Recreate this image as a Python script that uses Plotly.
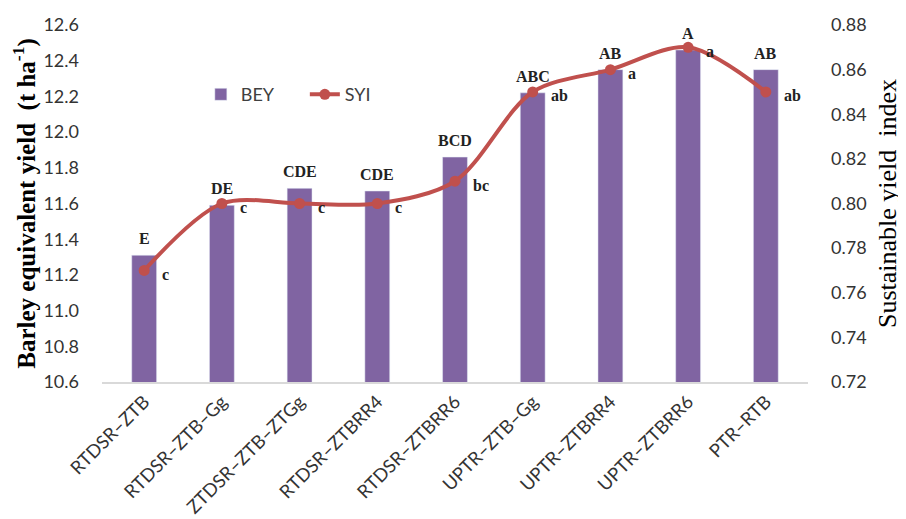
import plotly.graph_objects as go

categories = ["RTDSR–ZTB", "RTDSR–ZTB–Gg", "ZTDSR–ZTB–ZTGg", "RTDSR–ZTBRR4",
              "RTDSR–ZTBRR6", "UPTR–ZTB–Gg", "UPTR–ZTBRR4", "UPTR–ZTBRR6", "PTR–RTB"]
bey = [11.31, 11.59, 11.685, 11.67, 11.86, 12.22, 12.35, 12.46, 12.35]
syi = [0.77, 0.80, 0.80, 0.80, 0.81, 0.85, 0.86, 0.87, 0.85]
bey_letters = ["E", "DE", "CDE", "CDE", "BCD", "ABC", "AB", "A", "AB"]
syi_letters = ["c", "c", "c", "c", "bc", "ab", "a", "a", "ab"]
left_ticks = [10.6, 10.8, 11.0, 11.2, 11.4, 11.6, 11.8, 12.0, 12.2, 12.4, 12.6]
right_ticks = [0.72, 0.74, 0.76, 0.78, 0.80, 0.82, 0.84, 0.86, 0.88]

BAR_COLOR = "#8064A2"
LINE_COLOR = "#C0504D"
TICK_FONT = dict(family="Lato", size=18, color="#333333")
SERIF = "Liberation Serif"

fig = go.Figure()
fig.add_trace(go.Bar(x=categories, y=bey, name="BEY", marker_color=BAR_COLOR,
                     yaxis="y"))
fig.add_trace(go.Scatter(x=categories, y=syi, name="SYI", yaxis="y2",
                         mode="lines+markers",
                         line=dict(color=LINE_COLOR, width=4, shape="spline", smoothing=0.9),
                         marker=dict(color=LINE_COLOR, size=11)))

for c, v, t in zip(categories, bey, bey_letters):
    fig.add_annotation(x=c, y=v, yref="y", text=f"<b>{t}</b>", showarrow=False,
                       yanchor="bottom", yshift=6,
                       font=dict(family=SERIF, size=16, color="#222222"))
for c, v, t in zip(categories, syi, syi_letters):
    fig.add_annotation(x=c, y=v, yref="y2", text=f"<b>{t}</b>", showarrow=False,
                       xanchor="left", xshift=16, yshift=-4,
                       font=dict(family=SERIF, size=16, color="#222222"))

fig.update_layout(
    width=906, height=519,
    margin=dict(l=94, r=106, t=17, b=145),
    paper_bgcolor="white", plot_bgcolor="white",
    bargap=0.68,
    showlegend=True,
    legend=dict(orientation="h", x=0.14, y=0.805, xanchor="left", yanchor="middle",
                font=dict(family="Lato", size=18, color="#404040"),
                entrywidth=59, entrywidthmode="pixels",
                bgcolor="rgba(0,0,0,0)"),
    xaxis=dict(showline=True, linecolor="#D9D9D9", linewidth=1.5, ticks="",
               tickangle=-45, tickfont=dict(family="Lato", size=18.5, color="#333333"),
               showgrid=False, automargin=False),
    yaxis=dict(range=[10.6, 12.6], tickvals=left_ticks,
               ticktext=[f"{v:.1f}" for v in left_ticks],
               showgrid=False, zeroline=False, tickfont=TICK_FONT,
               ticklabelstandoff=22, automargin=False,
               title=dict(text="<b>Barley equivalent yield  (t ha<sup>-1</sup>)</b>",
                          font=dict(family=SERIF, size=25, color="black"), standoff=3)),
    yaxis2=dict(range=[0.72, 0.88], tickvals=right_ticks,
                ticktext=[f"{v:.2f}" for v in right_ticks],
                overlaying="y", side="right", showgrid=False, zeroline=False,
                tickfont=TICK_FONT, ticklabelstandoff=22, automargin=False,
                title=dict(text="Sustainable yield  index",
                           font=dict(family=SERIF, size=26, color="black"), standoff=12)),
)

fig.write_html("out.html")
